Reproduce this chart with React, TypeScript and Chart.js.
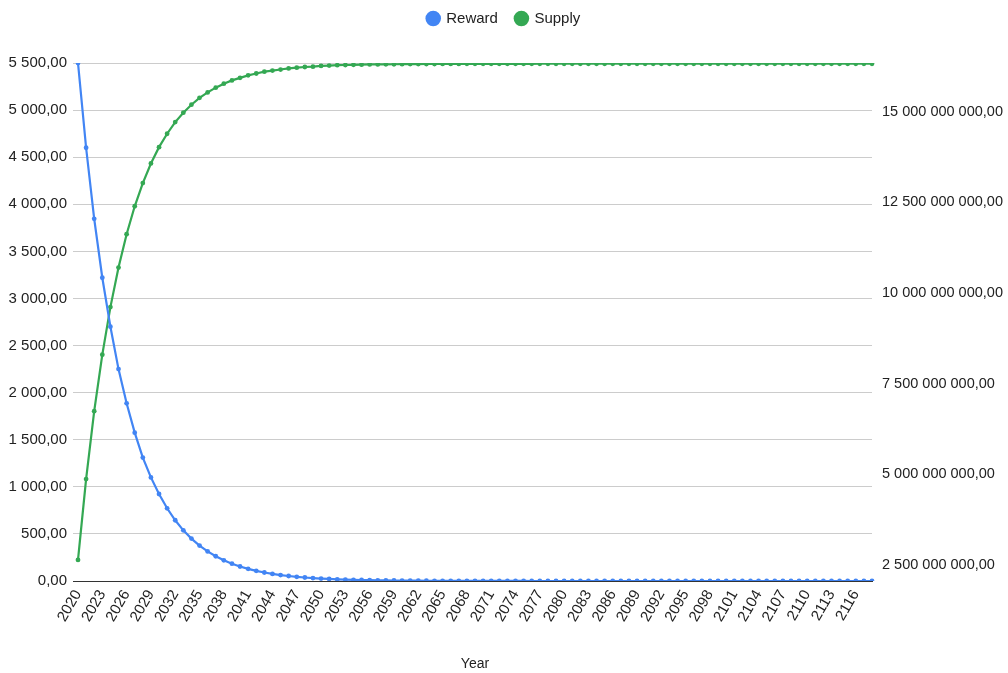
import React, { useEffect, useRef } from "react";
import { Chart, registerables } from "chart.js";

Chart.register(...registerables);

const years: string[] = [
  "2020", "2021", "2022", "2023", "2024", "2025", "2026", "2027", "2028", "2029",
  "2030", "2031", "2032", "2033", "2034", "2035", "2036", "2037", "2038", "2039",
  "2040", "2041", "2042", "2043", "2044", "2045", "2046", "2047", "2048", "2049",
  "2050", "2051", "2052", "2053", "2054", "2055", "2056", "2057", "2058", "2059",
  "2060", "2061", "2062", "2063", "2064", "2065", "2066", "2067", "2068", "2069",
  "2070", "2071", "2072", "2073", "2074", "2075", "2076", "2077", "2078", "2079",
  "2080", "2081", "2082", "2083", "2084", "2085", "2086", "2087", "2088", "2089",
  "2090", "2091", "2092", "2093", "2094", "2095", "2096", "2097", "2098", "2099",
  "2100", "2101", "2102", "2103", "2104", "2105", "2106", "2107", "2108", "2109",
  "2110", "2111", "2112", "2113", "2114", "2115", "2116", "2117", "2118",
];

const reward: number[] = [
  5500, 4600, 3845, 3220, 2700, 2250, 1887, 1575, 1310, 1100,
  924, 772, 645, 538, 450, 376, 314, 263, 220, 184,
  154, 129, 108, 90, 75, 63, 53, 44, 37, 31,
  26, 22, 18, 15, 12.6, 10.5, 8.8, 7.4, 6.2, 5.2,
  4.3, 3.6, 3.0, 2.5, 2.1, 1.8, 1.5, 1.25, 1.05, 0.88,
  0.73, 0.61, 0.51, 0.43, 0.36, 0.3, 0.25, 0.21, 0.18, 0.15,
  0.12, 0.1, 0.085, 0.07, 0.06, 0.05, 0.042, 0.035, 0.03, 0.025,
  0.021, 0.017, 0.015, 0.012, 0.01, 0.009, 0.007, 0.006, 0.005, 0.004,
  0.0035, 0.003, 0.0025, 0.002, 0.0017, 0.0014, 0.0012, 0.001, 0.0008, 0.0007,
  0.0006, 0.0005, 0.0004, 0.0003, 0.0003, 0.0002, 0.0002, 0.0002, 0.0001,
];

const supply: number[] = [
  2.64e9, 4.87e9, 6.74e9, 8.3e9, 9.61e9, 10.7e9, 11.62e9, 12.39e9, 13.03e9, 13.57e9,
  14.02e9, 14.39e9, 14.71e9, 14.97e9, 15.19e9, 15.38e9, 15.53e9, 15.66e9, 15.77e9, 15.86e9,
  15.93e9, 16.0e9, 16.05e9, 16.1e9, 16.13e9, 16.16e9, 16.19e9, 16.21e9, 16.23e9, 16.24e9,
  16.26e9, 16.27e9, 16.28e9, 16.285e9, 16.29e9, 16.295e9, 16.3e9, 16.302e9, 16.304e9, 16.306e9,
  16.308e9, 16.31e9, 16.311e9, 16.312e9, 16.313e9, 16.314e9, 16.315e9, 16.315e9, 16.316e9, 16.316e9,
  16.317e9, 16.317e9, 16.317e9, 16.318e9, 16.318e9, 16.318e9, 16.318e9, 16.319e9, 16.319e9, 16.319e9,
  16.319e9, 16.319e9, 16.319e9, 16.32e9, 16.32e9, 16.32e9, 16.32e9, 16.32e9, 16.32e9, 16.32e9,
  16.32e9, 16.32e9, 16.32e9, 16.32e9, 16.32e9, 16.32e9, 16.32e9, 16.32e9, 16.32e9, 16.32e9,
  16.32e9, 16.32e9, 16.32e9, 16.32e9, 16.32e9, 16.32e9, 16.32e9, 16.32e9, 16.32e9, 16.32e9,
  16.32e9, 16.32e9, 16.32e9, 16.32e9, 16.32e9, 16.32e9, 16.32e9, 16.32e9, 16.32e9,
];

const rightTicks: number[] = [2.5e9, 5e9, 7.5e9, 10e9, 12.5e9, 15e9];

const FONT = "'Liberation Sans', Arial, Helvetica, sans-serif";

function fmt(v: number): string {
  const fixed = Math.abs(v).toFixed(2);
  const [i, d] = fixed.split(".");
  const grouped = i.replace(/\B(?=(\d{3})+(?!\d))/g, " ");
  return (v < 0 ? "-" : "") + grouped + "," + d;
}

export default function App() {
  const ref = useRef<HTMLCanvasElement | null>(null);

  useEffect(() => {
    document.body.style.margin = "0";
    if (!ref.current) return;
    const legendMargin = {
      id: "legendMargin",
      beforeInit(chart: any) {
        const orig = chart.legend.fit;
        chart.legend.fit = function () {
          orig.bind(chart.legend)();
          this.height = 70;
        };
      },
    };
    const chart = new Chart(ref.current, {
      type: "line",
      data: {
        labels: years,
        datasets: [
          {
            label: "Reward",
            data: reward,
            borderColor: "#4285F4",
            backgroundColor: "#4285F4",
            borderWidth: 2.2,
            pointRadius: 2.4,
            pointBorderWidth: 0,
            pointBackgroundColor: "#4285F4",
            yAxisID: "y",
            tension: 0,
          },
          {
            label: "Supply",
            data: supply,
            borderColor: "#34A853",
            backgroundColor: "#34A853",
            borderWidth: 2.2,
            pointRadius: 2.4,
            pointBorderWidth: 0,
            pointBackgroundColor: "#34A853",
            yAxisID: "y1",
            tension: 0,
          },
        ],
      },
      plugins: [legendMargin],
      options: {
        animation: false,
        responsive: false,
        maintainAspectRatio: false,
        layout: { padding: { top: -7, left: 0, right: 0, bottom: 0 } },
        plugins: {
          legend: {
            position: "top",
            labels: {
              usePointStyle: true,
              pointStyle: "circle",
              boxWidth: 11,
              boxHeight: 11,
              padding: 18,
              color: "#222",
              font: { family: FONT, size: 15 },
            },
          },
          tooltip: { enabled: false },
        },
        scales: {
          x: {
            type: "category",
            offset: false,
            grid: { display: false, drawTicks: false },
            border: { display: true, color: "#333", width: 1 },
            ticks: {
              autoSkip: false,
              maxRotation: 60,
              minRotation: 60,
              padding: 6,
              color: "#222",
              font: { family: FONT, size: 15 },
              callback: (_v: any, i: number) => (i % 3 === 0 ? years[i] : ""),
            },
            title: {
              display: true,
              text: "Year",
              color: "#222",
              font: { family: FONT, size: 14 },
              padding: { top: 0, bottom: 0 },
            },
            afterFit: (s: any) => {
              s.height = 92;
            },
          },
          y: {
            position: "left",
            min: 0,
            max: 5500,
            ticks: {
              stepSize: 500,
              color: "#222",
              padding: 6,
              font: { family: FONT, size: 15 },
              callback: (v: any) => fmt(Number(v)),
            },
            grid: {
              color: (ctx: any) => (ctx.tick && ctx.tick.value === 0 ? "#333" : "#ccc"),
              tickLength: 5,
              drawTicks: true,
            },
            border: { display: false },
            afterFit: (s: any) => {
              s.width = 78;
            },
          },
          y1: {
            position: "right",
            min: 2.059e9,
            max: 16.34e9,
            afterBuildTicks: (s: any) => {
              s.ticks = rightTicks.map((v) => ({ value: v }));
            },
            ticks: {
              color: "#222",
              padding: 10,
              font: { family: FONT, size: 14.5 },
              callback: (v: any) => fmt(Number(v)),
            },
            grid: { display: false, drawTicks: false },
            border: { display: false },
            afterFit: (s: any) => {
              s.width = 136;
            },
          },
        },
      },
    });
    return () => chart.destroy();
  }, []);

  return (
    <div style={{ width: 1008, height: 673, background: "#fff" }}>
      <canvas ref={ref} width={1008} height={673} style={{ width: 1008, height: 673, display: "block" }} />
    </div>
  );
}
